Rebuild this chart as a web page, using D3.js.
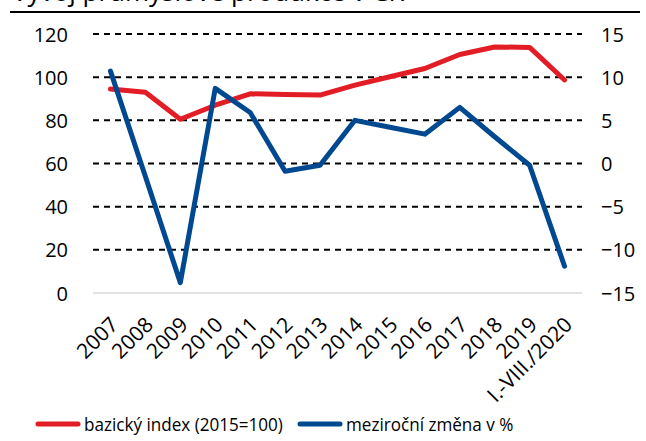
<!DOCTYPE html>
<html>
<head>
<meta charset="utf-8">
<script src="https://cdn.jsdelivr.net/npm/d3@7"></script>
<style>
  body { margin: 0; background: #fff; }
  svg { display: block; }
  text { font-family: "Open Sans", sans-serif; fill: #000; }
</style>
</head>
<body>
<div id="chart"></div>
<script>
  var years, bazicky, mezirocni, leftTicks, rightTicks;

  years = ["2007", "2008", "2009", "2010", "2011", "2012", "2013", "2014", "2015", "2016", "2017", "2018", "2019", "I.-VIII./2020"];
  bazicky = [94.5, 93.0, 80.5, 87.0, 92.3, 92.0, 91.7, 96.3, 100.2, 104.0, 110.5, 114.0, 113.8, 98.7];
  mezirocni = [10.7, -1.5, -13.8, 8.7, 5.9, -0.9, -0.2, 5.0, 4.2, 3.4, 6.5, 3.1, -0.2, -11.9];
  leftTicks = [0, 20, 40, 60, 80, 100, 120];
  rightTicks = [-15, -10, -5, 0, 5, 10, 15];

  var width = 646, height = 441;
  var margin = {left: 93, right: 64, top: 34, bottom: 148};

  var svg = d3.select("#chart").append("svg").attr("width", width).attr("height", height);

  // title sits mostly above the page edge, only its descenders show
  svg.append("text").attr("x", 12).attr("y", 1).style("font-size", "26px").text("Vývoj průmyslové produkce v ČR");
  svg.append("line").attr("x1", 10).attr("x2", 640).attr("y1", 12).attr("y2", 12)
    .style("stroke", "#000").style("stroke-width", 2);

  var x = d3.scalePoint().domain(years).range([margin.left, width - margin.right]).padding(0.5);
  var yL = d3.scaleLinear().domain([0, 120]).range([height - margin.bottom, margin.top]);
  var yR = d3.scaleLinear().domain([-15, 15]).range([height - margin.bottom, margin.top]);

  // gridlines
  svg.selectAll("line.grid").data(leftTicks.filter(function(d) { return d > 0; })).enter().append("line")
    .attr("class", "grid")
    .attr("x1", margin.left).attr("x2", width - margin.right)
    .attr("y1", function(d) { return yL(d); }).attr("y2", function(d) { return yL(d); })
    .style("stroke", "#000").style("stroke-width", 2).style("stroke-dasharray", "6,5");

  svg.append("line").attr("x1", margin.left).attr("x2", width - margin.right)
    .attr("y1", yL(0)).attr("y2", yL(0)).style("stroke", "#d9d9d9").style("stroke-width", 1.5);

  // axes
  var axL = svg.append("g").attr("transform", "translate(" + (margin.left - 25) + ",0)")
    .call(d3.axisLeft(yL).tickValues(leftTicks).tickSize(0).tickPadding(0));
  var axR = svg.append("g").attr("transform", "translate(" + (width - margin.right + 19) + ",0)")
    .call(d3.axisRight(yR).tickValues(rightTicks).tickSize(0).tickPadding(0));
  [axL, axR].forEach(function(a) {
    a.select(".domain").remove();
    a.selectAll("text").style("font-size", "20px").style("font-family", "Open Sans, sans-serif").attr("dy", "0.35em");
  });

  svg.selectAll("text.xl").data(years).enter().append("text")
    .attr("class", "xl")
    .attr("text-anchor", "end")
    .style("font-size", "21px")
    .attr("transform", function(d) { return "translate(" + (x(d) + 9) + "," + 326 + ") rotate(-45)"; })
    .text(function(d) { return d; });

  var lineL = d3.line().x(function(d, i) { return x(years[i]); }).y(function(d) { return yL(d); });
  var lineR = d3.line().x(function(d, i) { return x(years[i]); }).y(function(d) { return yR(d); });

  svg.append("path").datum(bazicky).attr("d", lineL)
    .style("fill", "none").style("stroke", "#e31d25").style("stroke-width", 5)
    .style("stroke-linejoin", "round").style("stroke-linecap", "round");
  svg.append("path").datum(mezirocni).attr("d", lineR)
    .style("fill", "none").style("stroke", "#004990").style("stroke-width", 5)
    .style("stroke-linejoin", "round").style("stroke-linecap", "round");

  // legend
  var legend = [
    {label: "bazický index (2015=100)", color: "#e31d25", x: 36},
    {label: "meziroční změna v %", color: "#004990", x: 298}
  ];
  var lg = svg.selectAll("g.lg").data(legend).enter().append("g").attr("class", "lg")
    .attr("transform", function(d) { return "translate(" + d.x + ",424)"; });
  lg.append("line").attr("x1", 2).attr("x2", 42).attr("y1", 0).attr("y2", 0)
    .style("stroke", function(d) { return d.color; }).style("stroke-width", 5).style("stroke-linecap", "round");
  lg.append("text").attr("transform", "translate(48,0) scale(0.9,1)").attr("dy", "0.35em")
    .style("font-size", "19px").text(function(d) { return d.label; });
</script>
</body>
</html>
